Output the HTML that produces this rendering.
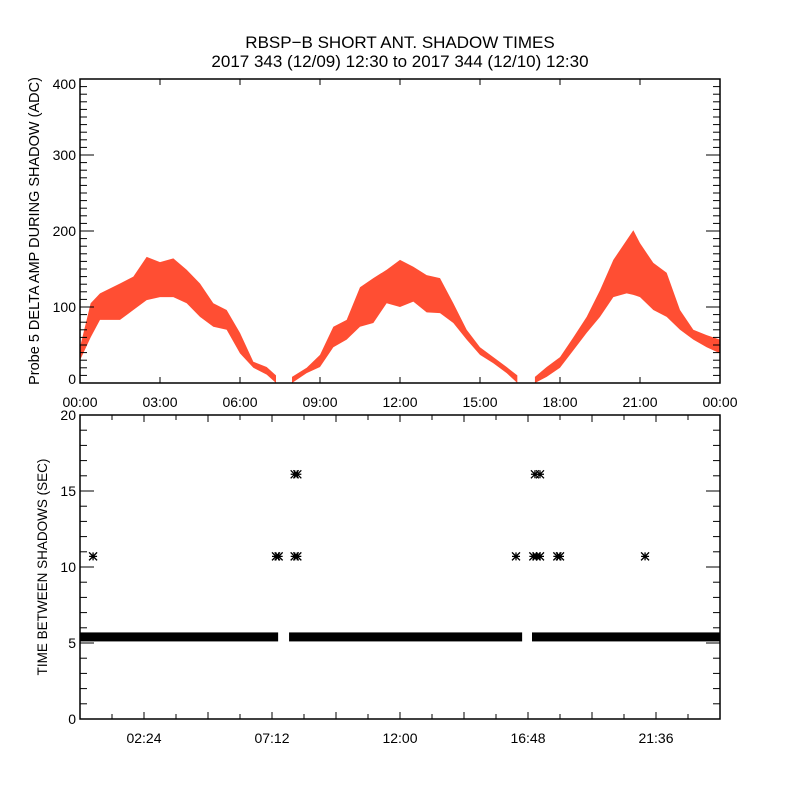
<!DOCTYPE html>
<html><head><meta charset="utf-8"><style>
html,body{margin:0;padding:0;background:#fff;}
svg{display:block;font-family:"Liberation Sans",Arial,sans-serif;}
</style></head><body>
<svg id="chart" width="800" height="800" viewBox="0 0 800 800">
<rect width="800" height="800" fill="#fff"/>
<text x="400" y="48" text-anchor="middle" font-size="17">RBSP−B SHORT ANT. SHADOW TIMES</text>
<text x="400" y="67" text-anchor="middle" font-size="17">2017 343 (12/09) 12:30 to 2017 344 (12/10) 12:30</text>
<g id="topPanel"></g>
<g id="botPanel"></g>
<text transform="translate(39,231) rotate(-90)" text-anchor="middle" font-size="14.5">Probe 5 DELTA AMP DURING SHADOW (ADC)</text>
<text transform="translate(47,567) rotate(-90)" text-anchor="middle" font-size="13.5">TIME BETWEEN SHADOWS (SEC)</text>
</svg>
<script>
const arc1Hours=[0,0.4,0.75,1.5,2,2.5,3,3.5,4,4.5,5,5.5,6,6.5,7,7.35];
const arc1Upper=[47,105,118,131,140,166,159,164,149,131,105,96,66,28,21,10];
const arc1Lower=[30,60,83,83,96,109,113,113,105,87,74,70,39,20,11,0];
const arc2Hours=[7.95,8.5,9,9.5,10,10.5,11,11.5,12,12.5,13,13.5,14,14.5,15,15.5,16,16.4];
const arc2Upper=[8,20,37,74,83,126,138,149,162,153,142,138,105,70,47,34,21,10];
const arc2Lower=[0,13,21,47,57,74,79,105,100,107,93,92,79,57,37,26,13,0];
const arc3Hours=[17.06,17.5,18,18.5,19,19.5,20,20.5,20.75,21,21.5,22,22.5,23,23.5,24];
const arc3Upper=[8,21,34,60,87,122,162,188,201,184,158,145,96,70,63,57];
const arc3Lower=[0,8,20,43,66,87,113,118,116,113,96,87,70,57,47,39];
const bandSegStart=[0,7.84,16.95];
const bandSegEnd=[7.43,16.58,24];
const bandValue=[5.4,5.4,5.4];
const starHours=[0.49,7.35,7.45,8.05,8.15,8.05,8.15,16.35,17.06,17.25,17.0,17.12,17.25,17.9,18.0,21.19];
const starValues=[10.7,10.7,10.7,16.1,16.1,10.7,10.7,10.7,16.1,16.1,10.7,10.7,10.7,10.7,10.7,10.7];
const topYTicks=[0,100,200,300,400];
const topXTickLabels=["00:00","03:00","06:00","09:00","12:00","15:00","18:00","21:00","00:00"];
const botYTicks=[0,5,10,15,20];
const botXTickLabels=["02:24","07:12","12:00","16:48","21:36"];

const NS="http://www.w3.org/2000/svg";
const X0=80,X1=720;
const xs=h=>X0+(h/24)*(X1-X0);
const yTop=v=>383-v*(304/400);
const yBot=v=>719-v*(304/20);
function mk(p,tag,at){const e=document.createElementNS(NS,tag);for(const k in at)e.setAttribute(k,at[k]);p.appendChild(e);return e;}
const topG=document.getElementById('topPanel'),botG=document.getElementById('botPanel');

[[arc1Hours,arc1Upper,arc1Lower],[arc2Hours,arc2Upper,arc2Lower],[arc3Hours,arc3Upper,arc3Lower]].forEach((a,i)=>{
  const [H,U,L]=a;let pts=[];
  H.forEach((h,j)=>pts.push(xs(h)+','+yTop(U[j])));
  for(let j=H.length-1;j>=0;j--)pts.push(xs(H[j])+','+yTop(L[j]));
  const p=mk(topG,'polygon',{points:pts.join(' '),fill:'#ff2200','fill-opacity':'0.8'});
  
  
});
const tf=mk(topG,'rect',{x:80,y:79,width:640,height:304,fill:'none',stroke:'#000','stroke-width':1.5});


for(let v=0;v<=400;v+=10){const maj=v%100===0,l=maj?14:7;
  mk(topG,'line',{x1:80,x2:80+l,y1:yTop(v),y2:yTop(v),stroke:'#000'});
  mk(topG,'line',{x1:720,x2:720-l,y1:yTop(v),y2:yTop(v),stroke:'#000'});}
topYTicks.forEach(v=>{let y=yTop(v)+5;if(v===400)y+=5;if(v===0)y-=4;
  const t=mk(topG,'text',{x:76,y:y,'text-anchor':'end','font-size':14});t.textContent=v;
  
  });
topXTickLabels.forEach((s,i)=>{const x=xs(i*3);
  mk(topG,'line',{x1:x,x2:x,y1:383,y2:377,stroke:'#000'});mk(topG,'line',{x1:x,x2:x,y1:79,y2:85,stroke:'#000'});
  const t=mk(topG,'text',{x:x,y:407,'text-anchor':'middle','font-size':14});t.textContent=s;
  
  });

bandSegStart.forEach((s,i)=>{const r=mk(botG,'rect',{x:xs(s),y:yBot(bandValue[i])-4.5,width:xs(bandSegEnd[i])-xs(s),height:9,fill:'#000'});
  
  });
starHours.forEach((h,i)=>{const cx=xs(h),cy=yBot(starValues[i]),r=4;
  const d=`M${cx-r},${cy}H${cx+r}M${cx},${cy-r}V${cy+r}M${cx-r},${cy-r}L${cx+r},${cy+r}M${cx-r},${cy+r}L${cx+r},${cy-r}`;
  const p=mk(botG,'path',{d:d,stroke:'#000','stroke-width':1.3,fill:'none'});
  
  });
const bf=mk(botG,'rect',{x:80,y:415,width:640,height:304,fill:'none',stroke:'#000','stroke-width':1.5});


for(let v=0;v<=20;v+=1){const maj=v%5===0,l=maj?14:7;
  mk(botG,'line',{x1:80,x2:80+l,y1:yBot(v),y2:yBot(v),stroke:'#000'});
  mk(botG,'line',{x1:720,x2:720-l,y1:yBot(v),y2:yBot(v),stroke:'#000'});}
botYTicks.forEach(v=>{const t=mk(botG,'text',{x:76,y:yBot(v)+5,'text-anchor':'end','font-size':14});t.textContent=v;
  
  });
for(let k=0;k<=20;k++){const x=xs(k*1.2),l=k%2===0?7:5;
  mk(botG,'line',{x1:x,x2:x,y1:719,y2:719-l,stroke:'#000'});mk(botG,'line',{x1:x,x2:x,y1:415,y2:415+l,stroke:'#000'});}
botXTickLabels.forEach((s,i)=>{const t=mk(botG,'text',{x:xs((i*2+1)*2.4),y:743,'text-anchor':'middle','font-size':14});t.textContent=s;
  
  });
</script>
</body></html>
